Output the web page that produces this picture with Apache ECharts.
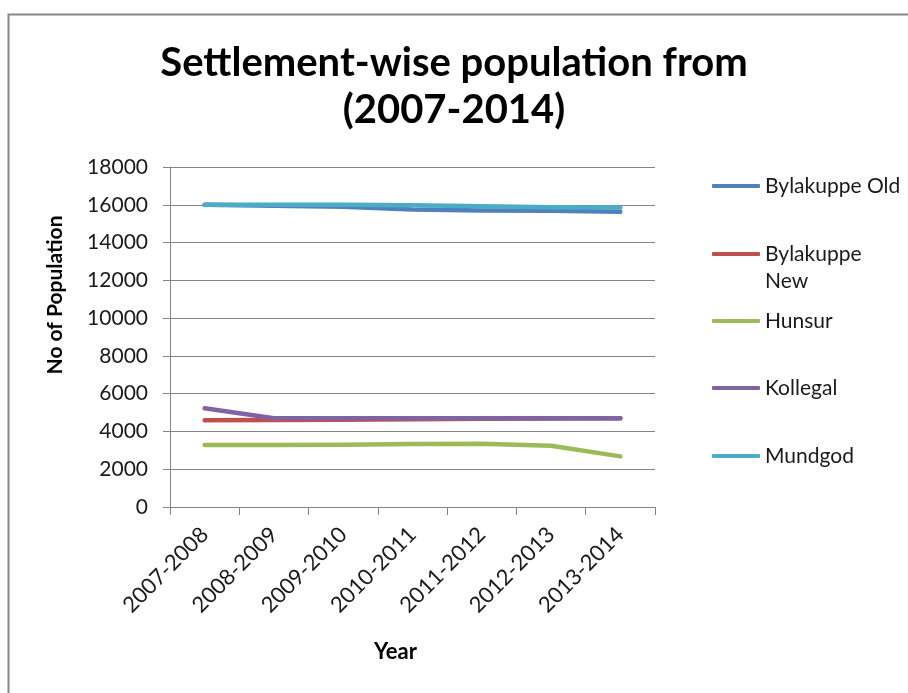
<!DOCTYPE html>
<html>
<head>
<meta charset="utf-8">
<script src="https://cdn.jsdelivr.net/npm/echarts@6/dist/echarts.min.js"></script>
<style>html,body{margin:0;padding:0;background:#fff;}#c{width:908px;height:693px;}</style>
</head>
<body>
<div id="c"></div>
<script>
const categories = ['2007-2008','2008-2009','2009-2010','2010-2011','2011-2012','2012-2013','2013-2014'];
const seriesNames = ['Bylakuppe Old','Bylakuppe New','Hunsur','Kollegal','Mundgod'];
const bylakuppeOld = [16000, 15950, 15900, 15750, 15700, 15680, 15630];
const bylakuppeNew = [4590, 4600, 4620, 4650, 4670, 4690, 4700];
const hunsur = [3280, 3280, 3290, 3340, 3350, 3240, 2680];
const kollegal = [5230, 4700, 4700, 4700, 4700, 4700, 4700];
const mundgod = [16000, 16000, 16000, 15980, 15920, 15870, 15850];
const yTicks = {min: 0, max: 18000, interval: 2000};
const colors = ['#4F81BD','#C0504D','#9BBB59','#8064A2','#4BACC6'];
const values = [bylakuppeOld, bylakuppeNew, hunsur, kollegal, mundgod];

const FONT = 'Lato';
const legendCenters = [186, 254, 321, 388, 456];
const LH = 27;
const legends = seriesNames.map((n, i) => {
  const multi = n === 'Bylakuppe New';
  return {
    data: [n],
    orient: 'vertical',
    left: 712,
    top: multi ? legendCenters[i] - LH * 1.5 : legendCenters[i] - LH / 2,
    padding: 0,
    icon: 'roundRect',
    itemWidth: 48,
    itemHeight: 4,
    selectedMode: false,
    formatter: (name) => name === 'Bylakuppe New' ? '\nBylakuppe\nNew' : name,
    textStyle: {fontFamily: FONT, fontSize: 21, color: '#1a1a1a', lineHeight: LH}
  };
});

const chart = echarts.init(document.getElementById('c'), null, {renderer: 'canvas'});
chart.setOption({
  animation: false,
  backgroundColor: '#fff',
  color: colors,
  title: {
    text: 'Settlement-wise population from\n(2007-2014)',
    left: 'center',
    top: 35,
    textStyle: {fontFamily: FONT, fontWeight: 'bold', fontSize: 40, lineHeight: 47, color: '#000'}
  },
  legend: legends,
  grid: {left: 170, right: 253, top: 167, bottom: 186},
  xAxis: {
    type: 'category',
    data: categories,
    boundaryGap: true,
    name: 'Year',
    nameLocation: 'middle',
    nameGap: 134,
    nameTextStyle: {fontFamily: FONT, fontWeight: 'bold', fontSize: 22, color: '#000', padding: [0, 34, 0, 0]},
    axisLine: {lineStyle: {color: '#868686', width: 1}},
    axisTick: {show: true, length: 8, alignWithLabel: false, lineStyle: {color: '#868686'}},
    axisLabel: {rotate: 45, fontFamily: FONT, fontSize: 22, color: '#1a1a1a', margin: 24, interval: 0},
    splitLine: {show: false}
  },
  yAxis: {
    type: 'value',
    min: yTicks.min, max: yTicks.max, interval: yTicks.interval,
    name: 'No of Population',
    nameLocation: 'middle',
    nameGap: 104,
    nameTextStyle: {fontFamily: FONT, fontWeight: 'bold', fontSize: 21, color: '#000', padding: [0, 0, 0, 84]},
    axisLine: {show: true, lineStyle: {color: '#868686', width: 1}},
    axisTick: {show: true, length: 7, lineStyle: {color: '#868686'}},
    axisLabel: {fontFamily: FONT, fontSize: 21, color: '#1a1a1a', margin: 22, formatter: (v) => String(v)},
    splitLine: {show: true, lineStyle: {color: '#868686', width: 1}}
  },
  graphic: [{
    type: 'rect', left: 6, top: 12, silent: true,
    shape: {x: 0, y: 0, width: 1000, height: 1000},
    style: {fill: 'none', stroke: '#888', lineWidth: 2}
  }],
  series: seriesNames.map((n, i) => ({
    name: n,
    type: 'line',
    data: values[i],
    symbol: 'none',
    lineStyle: {width: 4.5, color: colors[i], cap: 'round', join: 'round'},
    itemStyle: {color: colors[i]}
  }))
});
</script>
</body>
</html>
